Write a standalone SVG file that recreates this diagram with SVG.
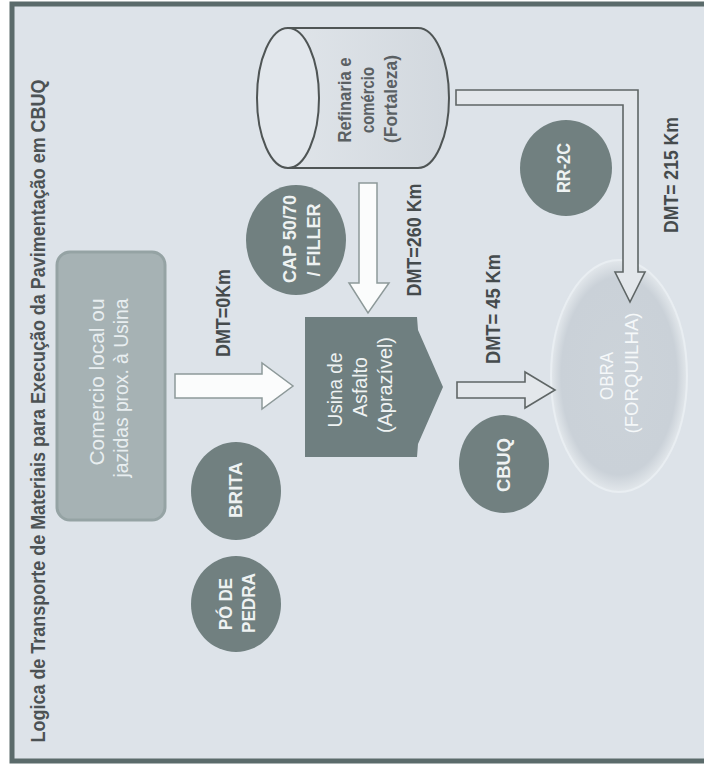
<svg xmlns="http://www.w3.org/2000/svg" width="704" height="766" viewBox="0 0 704 766">
<defs>
<style>
.t{font-family:"Liberation Sans",Arial,sans-serif;}
.b{font-weight:bold;}
.dmt{font-family:"Liberation Sans",Arial,sans-serif;font-weight:bold;font-size:21px;fill:#454b4d;}
.circ{fill:#718080;}
.wt{fill:#eef2f2;}
.warrow{fill:#fbfcfc;stroke:#8d9999;stroke-width:1.5;}
.garrow{fill:#e3e7eb;stroke:#5f6666;stroke-width:1.6;}
</style>
<linearGradient id="cyl" x1="0" y1="0" x2="1" y2="0">
<stop offset="0" stop-color="#dfe4e9"/>
<stop offset="1" stop-color="#d2d8de"/>
</linearGradient>
<radialGradient id="obra" cx="0.5" cy="0.5" r="0.5">
<stop offset="0" stop-color="#ccd3d9"/>
<stop offset="0.85" stop-color="#cad1d8"/>
<stop offset="1" stop-color="#e2e7eb"/>
</radialGradient>
</defs>
<rect x="0" y="0" width="704" height="766" fill="#ffffff"/>
<rect x="12" y="4" width="700" height="757" fill="#dde3e9" stroke="#5b6b6b" stroke-width="5"/>

<g id="title">
<text class="t b" transform="translate(45,411) rotate(-90)" text-anchor="middle" font-size="20" fill="#4c5254" textLength="663" lengthAdjust="spacingAndGlyphs">Logica de Transporte de Materiais para Execução da Pavimentação em CBUQ</text>
</g>

<g id="refinaria">
<path d="M288,28 L418,28 A31,70 0 0 1 418,168 L288,168 Z" fill="url(#cyl)" stroke="#4f5555" stroke-width="2"/>
<ellipse cx="288" cy="98" rx="31" ry="70" fill="#e2e7ec" stroke="#4f5555" stroke-width="2"/>
<g class="t b" fill="#5a6063" font-size="18" text-anchor="middle">
<text transform="translate(351,100) rotate(-90)" textLength="85" lengthAdjust="spacingAndGlyphs">Refinaria e</text>
<text transform="translate(374,100) rotate(-90)" textLength="66" lengthAdjust="spacingAndGlyphs">comércio</text>
<text transform="translate(397,99) rotate(-90)" textLength="88" lengthAdjust="spacingAndGlyphs">(Fortaleza)</text>
</g>
</g>

<g id="comercio">
<rect x="57" y="252" width="108" height="268" rx="13" fill="#a6b2b4" stroke="#95a3a4" stroke-width="3"/>
<g class="t" fill="#e8eef0" font-size="20" text-anchor="middle">
<text transform="translate(104,382) rotate(-90)" textLength="167" lengthAdjust="spacingAndGlyphs">Comercio local ou</text>
<text transform="translate(128,388) rotate(-90)" textLength="179" lengthAdjust="spacingAndGlyphs">jazidas prox. à Usina</text>
</g>
</g>

<g id="cap">
<ellipse class="circ" cx="296" cy="240" rx="50" ry="55"/>
<g class="t b wt" font-size="19" text-anchor="middle">
<text transform="translate(296,239) rotate(-90)" textLength="88" lengthAdjust="spacingAndGlyphs">CAP 50/70</text>
<text transform="translate(320,240) rotate(-90)" textLength="73" lengthAdjust="spacingAndGlyphs">/ FILLER</text>
</g>
</g>

<g id="rr2c">
<ellipse class="circ" cx="566" cy="168" rx="46" ry="48"/>
<text class="t b wt" transform="translate(570,168) rotate(-90)" font-size="19" text-anchor="middle" textLength="50" lengthAdjust="spacingAndGlyphs">RR-2C</text>
</g>

<g id="brita">
<ellipse class="circ" cx="236" cy="491" rx="45" ry="49"/>
<text class="t b wt" transform="translate(242,490) rotate(-90)" font-size="19" text-anchor="middle" textLength="56" lengthAdjust="spacingAndGlyphs">BRITA</text>
</g>

<g id="po-de-pedra">
<ellipse class="circ" cx="236" cy="604" rx="45" ry="48"/>
<g class="t b wt" font-size="19" text-anchor="middle">
<text transform="translate(232,604) rotate(-90)" textLength="52" lengthAdjust="spacingAndGlyphs">PÓ DE</text>
<text transform="translate(255,603) rotate(-90)" textLength="60" lengthAdjust="spacingAndGlyphs">PEDRA</text>
</g>
</g>

<g id="cbuq">
<ellipse class="circ" cx="504" cy="464" rx="45" ry="49"/>
<text class="t b wt" transform="translate(510,465) rotate(-90)" font-size="19" text-anchor="middle" textLength="54" lengthAdjust="spacingAndGlyphs">CBUQ</text>
</g>

<g id="usina">
<path d="M305,317 L417,317 L418,330 L443,387 L418,444 L417,457 L305,457 Z" fill="#6f7f80"/>
<g class="t wt" font-size="20" text-anchor="middle">
<text transform="translate(342,390) rotate(-90)" textLength="75" lengthAdjust="spacingAndGlyphs">Usina de</text>
<text transform="translate(367,387) rotate(-90)" textLength="60" lengthAdjust="spacingAndGlyphs">Asfalto</text>
<text transform="translate(392,385) rotate(-90)" textLength="96" lengthAdjust="spacingAndGlyphs">(Aprazível)</text>
</g>
</g>

<g id="obra">
<ellipse cx="619" cy="376" rx="68" ry="116" fill="url(#obra)" stroke="#e9eef2" stroke-width="2"/>
<g class="t" fill="#f5f8f9" font-size="19" text-anchor="middle">
<text transform="translate(613,376) rotate(-90)" textLength="48" lengthAdjust="spacingAndGlyphs">OBRA</text>
<text transform="translate(638,373) rotate(-90)" textLength="121" lengthAdjust="spacingAndGlyphs">(FORQUILHA)</text>
</g>
</g>

<g id="connectors">
<path class="warrow" d="M359,183 L377,183 L377,283 L389,283 L368,313 L349,283 L359,283 Z"/>
<path class="warrow" d="M175,374 L262,374 L262,363 L293,386 L262,409 L262,398 L175,398 Z"/>
<path class="garrow" d="M457,382 L525,382 L525,372 L555,390 L525,408 L525,398 L457,398 Z"/>
<path class="garrow" d="M456,90 L638,90 L638,272 L645,272 L630,302 L615,272 L623,272 L623,105 L456,105 Z"/>
<text class="dmt" transform="translate(421,240) rotate(-90)" text-anchor="middle" textLength="113" lengthAdjust="spacingAndGlyphs">DMT=260 Km</text>
<text class="dmt" transform="translate(678,175) rotate(-90)" text-anchor="middle" textLength="116" lengthAdjust="spacingAndGlyphs">DMT= 215 Km</text>
<text class="dmt" transform="translate(230,313) rotate(-90)" text-anchor="middle" textLength="88" lengthAdjust="spacingAndGlyphs">DMT=0Km</text>
<text class="dmt" transform="translate(500,309) rotate(-90)" text-anchor="middle" textLength="110" lengthAdjust="spacingAndGlyphs">DMT= 45 Km</text>
</g>
</svg>
